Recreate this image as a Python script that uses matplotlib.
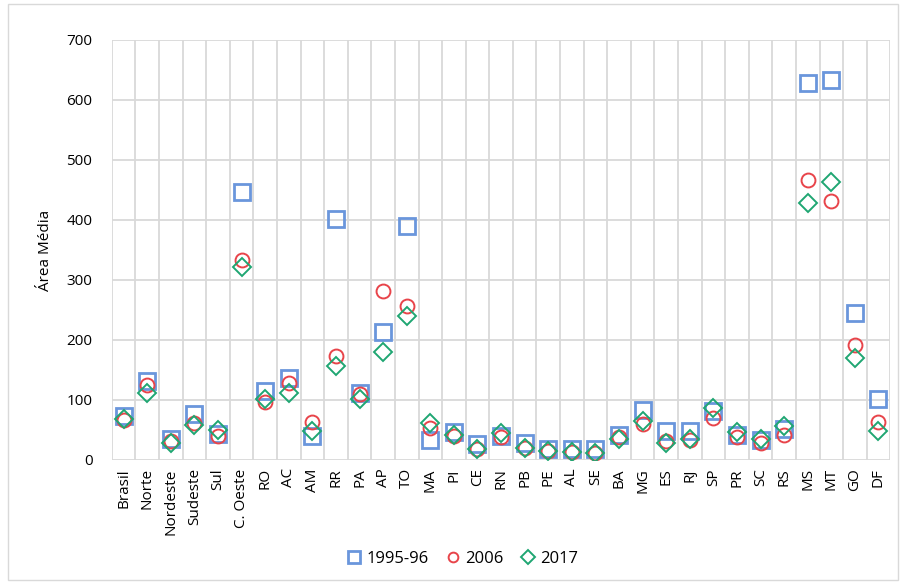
import numpy as np
import matplotlib.pyplot as plt
from matplotlib.patches import Rectangle

plt.rcParams['font.family'] = ['Open Sans', 'DejaVu Sans']

regioes = ['Brasil', 'Norte', 'Nordeste', 'Sudeste', 'Sul', 'C. Oeste',
           'RO', 'AC', 'AM', 'RR', 'PA', 'AP', 'TO', 'MA', 'PI', 'CE', 'RN',
           'PB', 'PE', 'AL', 'SE', 'BA', 'MG', 'ES', 'RJ', 'SP', 'PR', 'SC',
           'RS', 'MS', 'MT', 'GO', 'DF']

area_1995 = [73, 132, 35, 77, 43, 447,
             115, 136, 40, 402, 111, 213, 390, 34, 47, 26, 40,
             29, 19, 18, 18, 42, 83, 49, 48, 81, 42, 33,
             52, 629, 633, 245, 101]
area_2006 = [66, 125, 31, 61, 40, 333,
             96, 128, 63, 174, 110, 282, 257, 54, 40, 18, 38,
             20, 15, 13, 11, 38, 60, 31, 34, 70, 39, 28,
             42, 467, 432, 192, 63]
area_2017 = [69, 112, 28, 59, 50, 322,
             102, 112, 48, 157, 101, 180, 240, 61, 42, 18, 45,
             20, 15, 13, 11, 35, 65, 29, 35, 87, 46, 35,
             57, 429, 464, 170, 48]

fig = plt.figure(figsize=(9.02, 5.88), dpi=100)
fig.patches.append(Rectangle((8 / 902, 8 / 588), 890 / 902, 576 / 588,
                             transform=fig.transFigure, fill=False,
                             edgecolor='#D9D9D9', linewidth=1))
ax = fig.add_axes([0.124, 0.2177, 0.863, 0.7143])

x = np.arange(len(regioes))
ax.plot(x, area_1995, linestyle='none', marker='s', markersize=12,
        markerfacecolor='none', markeredgecolor='#6A96DC', markeredgewidth=2.0,
        label='1995-96', zorder=3)
ax.plot(x, area_2006, linestyle='none', marker='o', markersize=10,
        markerfacecolor='none', markeredgecolor='#E8444A', markeredgewidth=1.4,
        label='2006', zorder=4)
ax.plot(x, area_2017, linestyle='none', marker='D', markersize=9.5,
        markerfacecolor='none', markeredgecolor='#1FA672', markeredgewidth=1.4,
        label='2017', zorder=5)

ax.set_xlim(-0.5, len(regioes) - 0.5)
ax.set_ylim(0, 700)
ax.set_yticks(range(0, 701, 100))
ax.set_xticks(x)
ax.set_xticklabels(regioes, rotation=90, fontsize=11)
ax.tick_params(axis='y', labelsize=11, length=0, pad=14)
ax.tick_params(axis='x', length=0, pad=6)

for v in np.arange(-0.5, len(regioes), 1):
    ax.axvline(v, color='#D9D9D9', linewidth=1.3, zorder=1)
for h in range(0, 701, 100):
    ax.axhline(h, color='#D9D9D9', linewidth=1.3, zorder=1)
for s in ax.spines.values():
    s.set_visible(False)

ax.set_ylabel('Área Média', fontsize=11, labelpad=10)

ax.legend(loc='center', bbox_to_anchor=(0.45, -0.235), ncol=3, frameon=False,
          fontsize=12, handlelength=1.0, handletextpad=0.2, columnspacing=1.0,
          markerscale=0.7)

fig.savefig('out.png', dpi=100)
